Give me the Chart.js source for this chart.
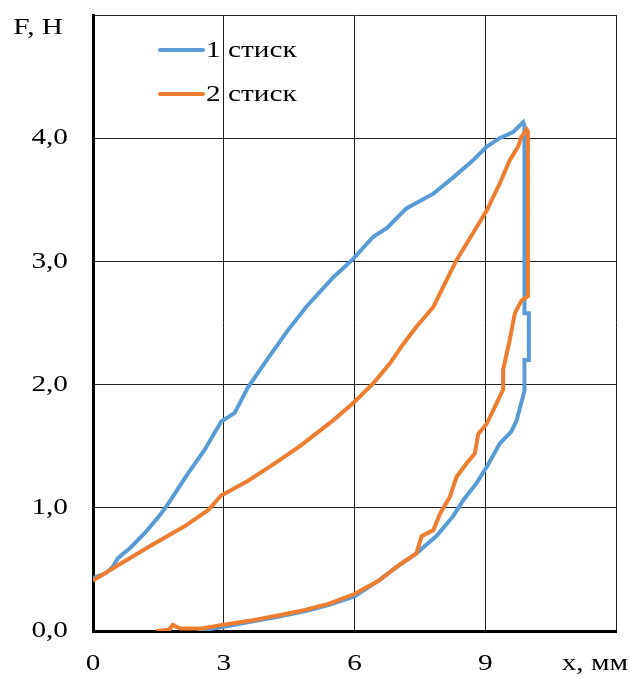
<!DOCTYPE html>
<html>
<head>
<meta charset="utf-8">
<script src="https://cdn.jsdelivr.net/npm/chart.js@4.4.1/dist/chart.umd.min.js"></script>
<style>
  html, body { margin: 0; padding: 0; background: #ffffff; }
  #wrap { width: 630px; height: 677px; }
</style>
</head>
<body>
<div id="wrap"><canvas id="c" width="630" height="677"></canvas></div>
<script>
// ---- data ----
const seriesLabels = ["1 стиск", "2 стиск"];
const seriesColors = ["#5B9BD5", "#ED7D31"];

const stick1X = [0, 0.3, 0.45, 0.57, 0.87, 1.2, 1.49, 1.7, 2.18, 2.56, 2.94, 3.25, 3.56, 4.01, 4.47, 4.89, 5.2, 5.51, 5.97, 6.43, 6.74, 7.19, 7.81, 8.26, 8.72, 9.03, 9.33, 9.64, 9.87,
  9.9, 9.9, 10.0, 10.0, 9.9, 9.9,
  9.72, 9.6, 9.33, 9.03, 8.8, 8.49, 8.26, 7.88, 7.42, 6.97, 6.56, 6.0, 5.4, 4.86, 4.3, 3.71, 2.94, 2.4];
const stick1F = [0.43, 0.47, 0.52, 0.59, 0.68, 0.8, 0.92, 1.02, 1.28, 1.47, 1.7, 1.77, 1.98, 2.21, 2.44, 2.63, 2.75, 2.87, 3.02, 3.2, 3.27, 3.43, 3.55, 3.68, 3.82, 3.93, 4.0, 4.05, 4.13,
  4.1, 2.58, 2.58, 2.2, 2.2, 1.95,
  1.71, 1.62, 1.52, 1.33, 1.2, 1.06, 0.93, 0.77, 0.63, 0.52, 0.41, 0.28, 0.21, 0.16, 0.12, 0.08, 0.03, 0.0];

const stick2X = [0, 0.65, 1.41, 2.1, 2.64, 2.94, 3.56, 4.17, 4.75, 5.51, 5.97, 6.43, 6.81, 7.12, 7.42, 7.81, 8.03, 8.34, 8.72, 9.03, 9.33, 9.56, 9.75, 9.83, 9.95,
  9.98, 9.98,
  9.83, 9.68, 9.56, 9.41, 9.41, 9.22, 9.03, 8.84, 8.76, 8.57, 8.34, 8.19, 7.96, 7.81, 7.54, 7.42, 7.04, 6.56, 6.0, 5.4, 4.86, 4.3, 3.7, 3.0, 2.5, 2.0, 1.83, 1.75, 1.45];
const stick2F = [0.41, 0.55, 0.71, 0.85, 0.98, 1.1, 1.22, 1.36, 1.5, 1.71, 1.85, 2.01, 2.17, 2.33, 2.47, 2.63, 2.79, 3.01, 3.23, 3.41, 3.63, 3.82, 3.93, 4.01, 4.07,
  4.05, 2.72,
  2.68, 2.58, 2.36, 2.12, 1.96, 1.82, 1.68, 1.6, 1.44, 1.36, 1.25, 1.09, 0.95, 0.82, 0.77, 0.63, 0.54, 0.41, 0.3, 0.22, 0.17, 0.13, 0.09, 0.05, 0.02, 0.02, 0.05, 0.01, 0.0];

const xTicks = [0, 3, 6, 9];
const yTicks = [0, 1, 2, 3, 4];
const xTitle = "x, мм";
const yTitle = "F, Н";

// ---- build chart ----
function pts(xs, ys) { return xs.map((x, i) => ({ x: x, y: ys[i] })); }

const FONT = "'Liberation Serif', 'Times New Roman', serif";
const FSIZE = 24;
const TEXT_SX = 1.22; // reference text is horizontally wide

const wideText = {
  id: 'wideText',
  beforeDraw(chart) {
    const ctx = chart.ctx;
    if (ctx.__wide) return;
    const orig = ctx.fillText.bind(ctx);
    ctx.fillText = function (t, x, y, mw) {
      ctx.save();
      ctx.translate(x, y);
      ctx.scale(TEXT_SX, 1);
      if (mw === undefined || mw === null) orig(t, 0, 0); else orig(t, 0, 0, mw / TEXT_SX);
      ctx.restore();
    };
    ctx.__wide = true;
  }
};

const titlesAndLegend = {
  id: 'titlesAndLegend',
  afterDraw(chart) {
    const ctx = chart.ctx;
    const a = chart.chartArea;
    ctx.save();
    ctx.fillStyle = '#000';
    ctx.font = FSIZE + 'px ' + FONT;
    ctx.textBaseline = 'middle';
    ctx.textAlign = 'right';
    ctx.fillText(yTitle, a.left - 30, a.top + 13);
    ctx.textAlign = 'right';
    ctx.fillText(xTitle, a.right + 12, a.bottom + 33);
    // legend
    chart.data.datasets.forEach((ds, i) => {
      const y = a.top + 35 + i * 44;
      const x0 = a.left + 67;
      ctx.strokeStyle = ds.borderColor;
      ctx.lineWidth = 4;
      ctx.lineCap = 'round';
      ctx.beginPath();
      ctx.moveTo(x0, y);
      ctx.lineTo(x0 + 43, y);
      ctx.stroke();
      ctx.fillStyle = '#000';
      ctx.textAlign = 'left';
      ctx.fillText(ds.label, x0 + 46, y + 1);
    });
    ctx.restore();
  }
};

new Chart(document.getElementById('c'), {
  type: 'scatter',
  data: {
    datasets: [
      { label: seriesLabels[0], data: pts(stick1X, stick1F), borderColor: seriesColors[0], backgroundColor: seriesColors[0],
        showLine: true, pointRadius: 0, borderWidth: 4, tension: 0, order: 1 },
      { label: seriesLabels[1], data: pts(stick2X, stick2F), borderColor: seriesColors[1], backgroundColor: seriesColors[1],
        showLine: true, pointRadius: 0, borderWidth: 4, tension: 0, order: 0 }
    ]
  },
  options: {
    responsive: false,
    animation: false,
    devicePixelRatio: 1,
    layout: { padding: { left: 0, top: 15, right: 14, bottom: 0 } },
    plugins: { legend: { display: false }, tooltip: { enabled: false } },
    scales: {
      x: {
        type: 'linear', min: 0, max: 12,
        afterBuildTicks(scale) { scale.ticks = xTicks.concat([12]).map(v => ({ value: v })); },
        afterFit(scale) { scale.height = 46; scale.paddingLeft = 0; scale.paddingRight = 0; },
        ticks: {
          padding: 18, color: '#000', font: { family: FONT, size: FSIZE },
          maxRotation: 0,
          callback(v) { return xTicks.includes(v) ? String(v) : ''; }
        },
        grid: { color: '#222', lineWidth: 1, drawTicks: false },
        border: { color: '#000', width: 3 }
      },
      y: {
        type: 'linear', min: 0, max: 5,
        afterBuildTicks(scale) { scale.ticks = yTicks.concat([5]).map(v => ({ value: v })); },
        afterFit(scale) { scale.width = 93; scale.paddingTop = 0; scale.paddingBottom = 0; },
        ticks: {
          padding: 25, color: '#000', font: { family: FONT, size: FSIZE },
          callback(v) { return yTicks.includes(v) ? v.toFixed(1).replace('.', ',') : ''; }
        },
        grid: { color: '#222', lineWidth: 1, drawTicks: false },
        border: { color: '#000', width: 3 }
      }
    }
  },
  plugins: [wideText, titlesAndLegend]
});
</script>
</body>
</html>
